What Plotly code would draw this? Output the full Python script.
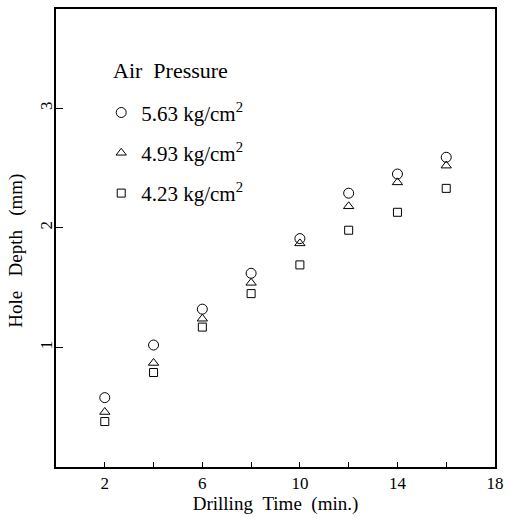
import plotly.graph_objects as go

drilling_time = [2, 4, 6, 8, 10, 12, 14, 16]
depth_563 = [0.58, 1.02, 1.32, 1.62, 1.91, 2.29, 2.45, 2.59]
depth_493 = [0.46, 0.87, 1.24, 1.54, 1.87, 2.18, 2.38, 2.52]
depth_423 = [0.38, 0.79, 1.17, 1.45, 1.69, 1.98, 2.13, 2.33]

series = [
    ("5.63 kg/cm<sup>2</sup>", depth_563, "circle-open", 10),
    ("4.93 kg/cm<sup>2</sup>", depth_493, "triangle-up-open", 9),
    ("4.23 kg/cm<sup>2</sup>", depth_423, "square-open", 8),
]

FONT = "Liberation Serif, Times New Roman, serif"
NB = "\u00a0"

fig = go.Figure()
for i, (name, vals, sym, sz) in enumerate(series):
    fig.add_trace(go.Scatter(
        x=drilling_time, y=vals, mode="markers", name=name,
        legendgroup=f"g{i}",
        marker=dict(symbol=sym, size=sz, color="black", line=dict(width=1, color="black")),
    ))

axis_common = dict(showline=True, linecolor="black", linewidth=1.5, mirror=True,
                   showgrid=False, zeroline=False, tickcolor="black",
                   tickfont=dict(family=FONT, size=17, color="black"))

fig.update_layout(
    width=511, height=518,
    margin=dict(l=56, r=8, t=7, b=51),
    paper_bgcolor="white", plot_bgcolor="white",
    font=dict(family=FONT, color="black"),
    xaxis=dict(range=[0, 18], tickvals=[2, 6, 10, 14, 18], ticks="inside", ticklen=5,
               minor=dict(tickvals=[4, 8, 12, 16], ticks="inside", ticklen=5, tickcolor="black"),
               title=dict(text=f"Drilling{NB*2}Time{NB*2}(min.)", font=dict(family=FONT, size=19), standoff=4),
               **axis_common),
    yaxis=dict(range=[0, 3.83], tickvals=[1, 2, 3], ticks="inside", ticklen=7, tickangle=-90,
               ticklabelstandoff=-5,
               **axis_common),
    legend=dict(x=0.103, y=0.818, xanchor="left", yanchor="top",
                font=dict(family=FONT, size=21), bgcolor="rgba(0,0,0,0)",
                tracegroupgap=10, itemwidth=30),
    showlegend=True,
    annotations=[
        dict(text=f"Air{NB*2}Pressure", xref="paper", yref="paper",
             x=(112 - 56) / 447, y=(467 - 69) / 460, xanchor="left", yanchor="middle",
             showarrow=False, font=dict(family=FONT, size=22)),
        dict(text=f"Hole{NB*3}Depth{NB*3}(mm)", xref="paper", yref="paper",
             x=(15 - 56) / 447, y=(467 - 250) / 460, xanchor="center", yanchor="middle",
             textangle=-90, showarrow=False, font=dict(family=FONT, size=19)),
    ],
)

fig.write_html("out.html")
